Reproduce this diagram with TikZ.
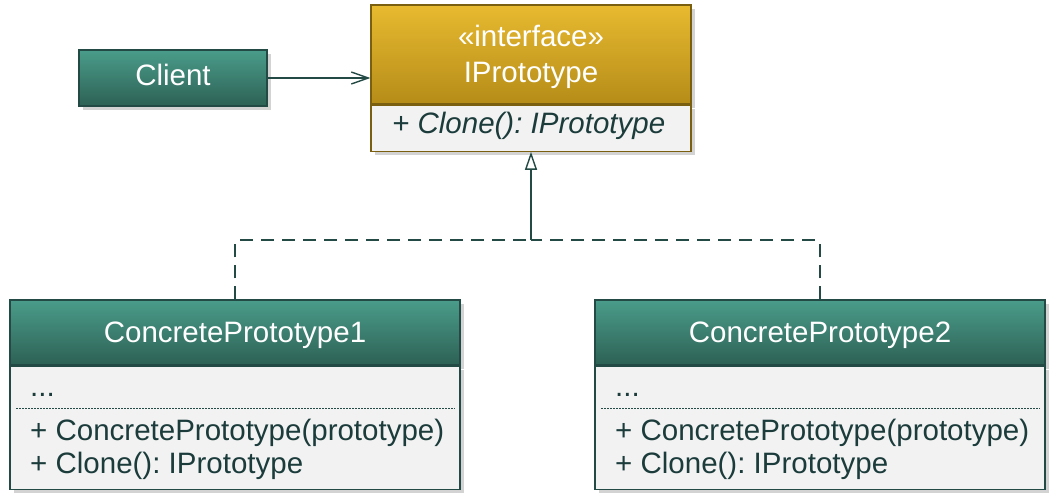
\documentclass[tikz,border=0pt]{standalone}
\usepackage{fontspec}
\setmainfont{Liberation Sans}
\usetikzlibrary{arrows.meta,shadows}
\definecolor{tealtop}{HTML}{4A9C8A}
\definecolor{tealbot}{HTML}{2D6155}
\definecolor{tealline}{HTML}{234A44}
\definecolor{goldtop}{HTML}{E8BA30}
\definecolor{goldbot}{HTML}{B58C18}
\definecolor{goldline}{HTML}{7A5F10}
\definecolor{bodyfill}{HTML}{F2F2F2}
\definecolor{txt}{HTML}{1C3C3C}
\frenchspacing
\begin{document}
\begin{tikzpicture}[x=1pt,y=-1pt,
  font=\fontsize{29.5}{34}\selectfont,
  shad/.style={drop shadow={opacity=0.35,shadow xshift=4pt,shadow yshift=-4pt}},
  tealhead/.style={shad,draw=tealline,line width=1.2pt,top color=tealtop,bottom color=tealbot,inner sep=0pt},
  goldhead/.style={shad,draw=goldline,line width=1.2pt,top color=goldtop,bottom color=goldbot,inner sep=0pt},
  tealbody/.style={shad,draw=tealline,line width=1.2pt,fill=bodyfill,inner sep=0pt},
  goldbody/.style={shad,draw=goldline,line width=1.2pt,fill=bodyfill,inner sep=0pt},
  headtext/.style={text=white,inner sep=0pt,anchor=base},
  member/.style={text=txt,inner sep=0pt,anchor=base west},
  conn/.style={draw=tealline,line width=1.4pt},
  dashline/.style={conn,dash pattern=on 13pt off 8pt},
  sep/.style={draw=tealline,line width=1pt,dash pattern=on 1.5pt off 1.5pt}
]
\useasboundingbox (0,0) rectangle (1056,503);

% Client
\node[tealhead,minimum width=188pt,minimum height=56pt] (client) at (173,78) {};
\node[headtext] (clientt) at (173,85) {Client};

% IPrototype
\node[goldhead,minimum width=320pt,minimum height=99pt] (ihead) at (531,54.5) {};
\node[goldbody,minimum width=320pt,minimum height=46pt,anchor=north] (ibody) at (ihead.south) {};
\node[headtext] (istereo) at (531,46) {«interface»};
\node[headtext] (iname) at (531,82) {IPrototype};
\node[member,font=\fontsize{29.5}{34}\selectfont\itshape] (iclone) at (392,133) {+ Clone(): IPrototype};

% ConcretePrototype1
\node[tealhead,minimum width=450pt,minimum height=65pt] (cahead) at (235,332.5) {};
\node[tealbody,minimum width=450pt,minimum height=123pt,anchor=north] (cabody) at (cahead.south) {};
\node[headtext] (caname) at (235,342) {ConcretePrototype1};
\node[member] (cadots) at (30,396) {...};
\draw[sep] (16,408) -- (455,408);
\node[member] (cactor) at (30,440) {+ ConcretePrototype(prototype)};
\node[member] (caclone) at (30,473) {+ Clone(): IPrototype};

% ConcretePrototype2
\node[tealhead,minimum width=450pt,minimum height=65pt] (cbhead) at (820,332.5) {};
\node[tealbody,minimum width=450pt,minimum height=123pt,anchor=north] (cbbody) at (cbhead.south) {};
\node[headtext] (cbname) at (820,342) {ConcretePrototype2};
\node[member] (cbdots) at (615,396) {...};
\draw[sep] (601,408) -- (1040,408);
\node[member] (cbctor) at (615,440) {+ ConcretePrototype(prototype)};
\node[member] (cbclone) at (615,473) {+ Clone(): IPrototype};

% connectors
\draw[conn,-{Straight Barb[length=17pt,width=12pt]}] (client.east) -- (client.east -| ihead.west);
\coordinate (j) at (531,240);
\draw[dashline,rounded corners=4pt] (cahead.north) |- (j);
\draw[dashline,rounded corners=4pt] (cbhead.north) |- (j);
\draw[conn,-{Triangle[open,fill=white,length=18pt,width=12pt]}] (j) -- (ibody.south);
\end{tikzpicture}
\end{document}
